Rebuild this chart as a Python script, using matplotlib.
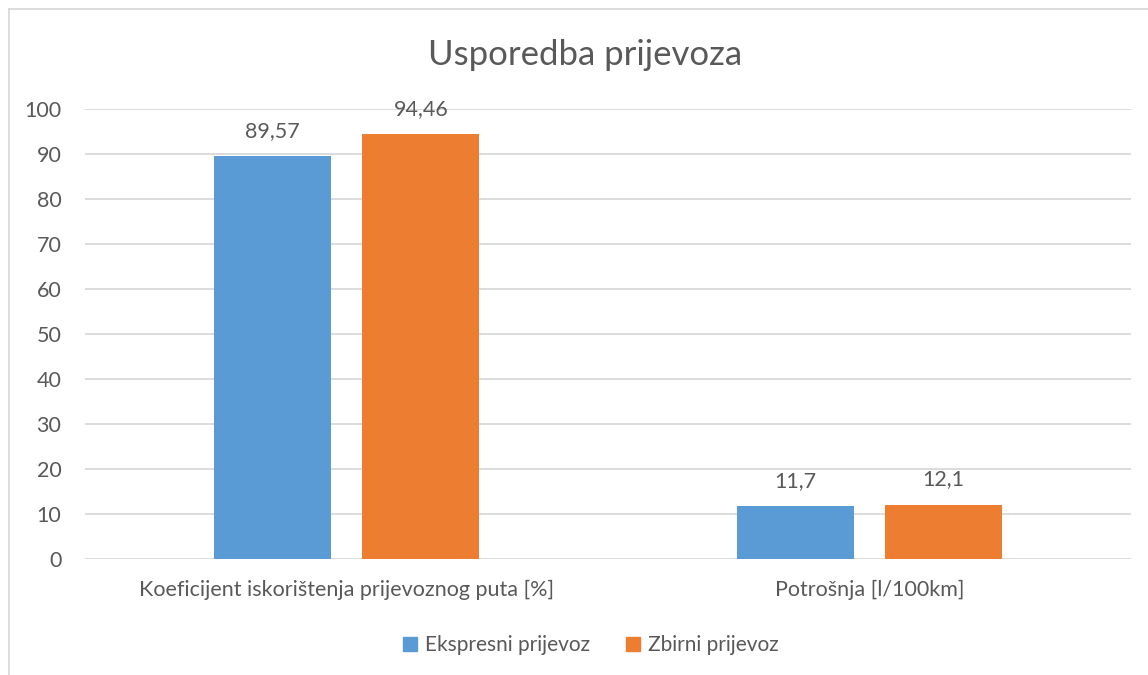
import matplotlib.pyplot as plt
from matplotlib.lines import Line2D
import numpy as np

# podaci
kategorije = ['Koeficijent iskorištenja prijevoznog puta [%]', 'Potrošnja [l/100km]']
ekspresni = [89.57, 11.7]
zbirni = [94.46, 12.1]
oznake_ekspresni = ['89,57', '11,7']
oznake_zbirni = ['94,46', '12,1']

plt.rcParams['font.family'] = ['Lato', 'DejaVu Sans']
siva = '#595959'

fig = plt.figure(figsize=(11.48, 6.75), dpi=100)
ax = fig.add_axes([85 / 1148, 1 - 559 / 675, (1131 - 85) / 1148, 450 / 675])

x = np.arange(len(kategorije))
w = 0.224
pomak = 0.142
b1 = ax.bar(x - pomak, ekspresni, w, color='#5b9bd5', label='Ekspresni prijevoz', zorder=3)
b2 = ax.bar(x + pomak, zbirni, w, color='#ed7d31', label='Zbirni prijevoz', zorder=3)
ax.bar_label(b1, labels=oznake_ekspresni, padding=11, fontsize=15.5, color=siva)
ax.bar_label(b2, labels=oznake_zbirni, padding=11, fontsize=15.5, color=siva)

ax.set_xlim(-0.5, 1.5)
ax.set_ylim(0, 100)
ax.set_yticks(range(0, 101, 10))
ax.set_xticks(x)
ax.set_xticklabels(kategorije)
ax.tick_params(length=0, labelsize=15.5, labelcolor=siva)
ax.tick_params(axis='y', pad=17)
ax.tick_params(axis='x', pad=15)
ax.grid(axis='y', color='#d9d9d9', linewidth=1.3, zorder=0)
for s in ax.spines.values():
    s.set_visible(False)

fig.text(585 / 1148, 1 - 55 / 675, 'Usporedba prijevoza', ha='center', va='center',
         fontsize=25, color=siva)

# legenda
ruke = [Line2D([], [], marker='s', linestyle='', markersize=10, color='#5b9bd5'),
        Line2D([], [], marker='s', linestyle='', markersize=10, color='#ed7d31')]
fig.legend(ruke, ['Ekspresni prijevoz', 'Zbirni prijevoz'], loc='center',
           bbox_to_anchor=(589 / 1148, 1 - 645 / 675), ncol=2, frameon=False,
           fontsize=15, labelcolor=siva, handlelength=1.0, handletextpad=0.2,
           columnspacing=1.6)

# okvir grafikona
fig.add_artist(Line2D([9 / 1148, 9 / 1148], [0, 1 - 9 / 675], color='#d9d9d9', linewidth=1.3))
fig.add_artist(Line2D([9 / 1148, 1], [1 - 9 / 675, 1 - 9 / 675], color='#d9d9d9', linewidth=1.3))

fig.savefig('out.png', dpi=100)
